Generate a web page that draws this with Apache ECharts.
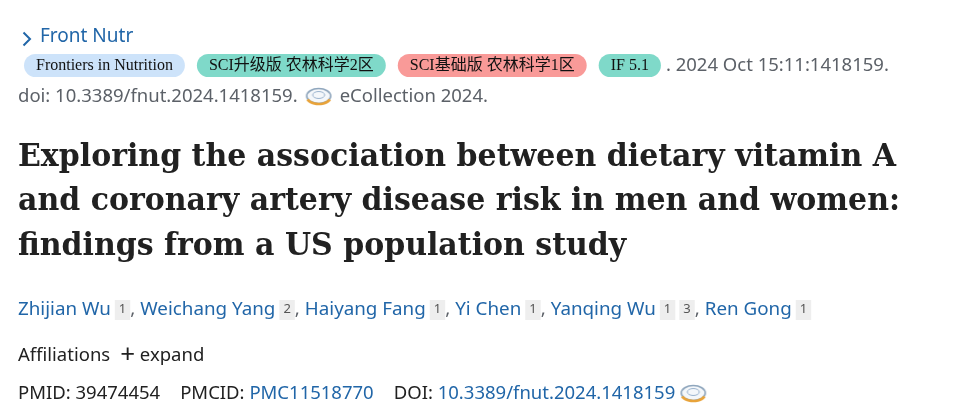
<!DOCTYPE html>
<html lang="en">
<head>
<meta charset="UTF-8">
<title>Front Nutr article header</title>
<script src="https://cdn.jsdelivr.net/npm/echarts@6/dist/echarts.min.js"></script>
<style>
  html, body { margin: 0; padding: 0; background: #fff; }
  #main { width: 968px; height: 414px; }
</style>
</head>
<body>
<div id="main"></div>
<script>
// page text, kept as small lists
var journal = 'Front Nutr';
var badgeTexts = ['Frontiers in Nutrition', 'SCI升级版 农林科学2区', 'SCI基础版 农林科学1区', 'IF 5.1'];
var badgeKinds = ['blue', 'teal', 'red', 'teal'];
var citation = '. 2024 Oct 15:11:1418159.';
var doiText = 'doi: 10.3389/fnut.2024.1418159.';
var ecollection = 'eCollection 2024.';
var titleLines = [
  'Exploring the association between dietary vitamin A',
  'and coronary artery disease risk in men and women:',
  'findings from a US population study'
];
var authors = ['Zhijian Wu', 'Weichang Yang', 'Haiyang Fang', 'Yi Chen', 'Yanqing Wu', 'Ren Gong'];
var authorAffs = [['1'], ['2'], ['1'], ['1'], ['1', '3'], ['1']];
var idLabels = ['PMID:', 'PMCID:', 'DOI:'];
var idValues = ['39474454', 'PMC11518770', '10.3389/fnut.2024.1418159'];
var idLinked = [false, true, true];

var SANS = '"Noto Sans", "Open Sans", sans-serif';
var FS = 18.5;
var BLUE = '#2166a8';
var GRAY = '#5c6168';
var DARK = '#212121';

// small eCollection icon drawn on a canvas, used inline in rich text
function makeIcon() {
  var c = document.createElement('canvas');
  c.width = 28; c.height = 20;
  var g = c.getContext('2d');
  g.beginPath();
  g.ellipse(14, 9, 12, 7.5, 0, 0, Math.PI * 2);
  g.fillStyle = '#f4f7fa'; g.fill();
  g.lineWidth = 1.6; g.strokeStyle = '#8fa6bd'; g.stroke();
  g.beginPath();
  g.ellipse(14, 8, 6, 3.5, 0, 0, Math.PI * 2);
  g.lineWidth = 1; g.strokeStyle = '#9bb4cf'; g.stroke();
  g.beginPath();
  g.ellipse(14, 10, 12, 7, 0, 0.12 * Math.PI, 0.88 * Math.PI);
  g.lineWidth = 2.6; g.strokeStyle = '#e8a33a'; g.stroke();
  return c;
}
var icon = makeIcon();

var badgeStyle = {
  blue: { backgroundColor: '#cde3fa' },
  teal: { backgroundColor: '#7fd9c9' },
  red: { backgroundColor: '#f99a98' }
};

// row 2: badges + citation
var badgeRich = { sp: { width: 12, fontSize: 14 }, sp2: { width: 5, fontSize: 14 } };
var badgeStr = '';
badgeTexts.forEach(function (t, i) {
  var k = 'b' + i;
  badgeRich[k] = Object.assign({
    fill: '#111',
    fontFamily: '"Liberation Serif", "Noto Sans CJK SC", serif',
    fontSize: 16,
    padding: [3, 12, 3, 12],
    borderRadius: 12,
    height: 17,
    lineHeight: 17
  }, badgeStyle[badgeKinds[i]]);
  badgeStr += '{' + k + '|' + t + '}' + (i < badgeTexts.length - 1 ? '{sp| }' : '{sp2| }');
});
badgeRich.cit = { fill: GRAY, fontFamily: SANS, fontSize: FS };
badgeStr += '{cit|' + citation + '}';

// row 3: doi line with icon
var doiRich = {
  t: { fill: GRAY, fontFamily: SANS, fontSize: FS },
  ic: { width: 28, height: 20, backgroundColor: { image: icon } },
  sp: { width: 7 }
};
var doiStr = '{t|' + doiText + '}{sp| }{ic|}{sp| }{t|' + ecollection + '}';

// authors
var authRich = {
  n: { fill: BLUE, fontFamily: SANS, fontSize: 18.8 },
  c: { fill: GRAY, fontFamily: SANS, fontSize: 18.8 },
  sp: { width: 4 },
  csp: { width: 5 },
  s: {
    fill: '#555', fontFamily: SANS, fontSize: 13, backgroundColor: '#eeeeee',
    padding: [2, 4, 3, 4], verticalAlign: 'top', height: 15, lineHeight: 15
  }
};
var authStr = authors.map(function (a, i) {
  var sup = authorAffs[i].map(function (n) { return '{sp| }{s|' + n + '}'; }).join('');
  return '{n|' + a + '}' + sup;
}).join('{c|,}{csp| }');

// affiliations
var affRich = {
  t: { fill: DARK, fontFamily: SANS, fontSize: FS },
  p: { fill: DARK, fontFamily: SANS, fontSize: 26 },
  sp: { width: 10 }
};
var affStr = '{t|Affiliations}{sp| }{p|+}{t| expand}';

// ids
var idRich = {
  l: { fill: DARK, fontFamily: SANS, fontSize: FS },
  v: { fill: DARK, fontFamily: SANS, fontSize: FS },
  lv: { fill: BLUE, fontFamily: SANS, fontSize: FS },
  ic: { width: 28, height: 20, backgroundColor: { image: icon } },
  gap: { width: 20 },
  sp: { width: 4 }
};
var idStr = idLabels.map(function (l, i) {
  return '{l|' + l + ' }{' + (idLinked[i] ? 'lv' : 'v') + '|' + idValues[i] + '}';
}).join('{gap| }') + '{sp| }{ic|}';

var elements = [];
// chevron + journal
elements.push({
  type: 'polyline', left: 21, top: 30,
  shape: { points: [[0, 0], [6.5, 6.5], [0, 13]] },
  style: { stroke: BLUE, lineWidth: 2, fill: null }
});
elements.push({
  type: 'text', left: 40, top: 27,
  style: { text: journal, fill: BLUE, font: '19px ' + SANS }
});
elements.push({ type: 'text', left: 24, top: 54, style: { text: badgeStr, rich: badgeRich } });
elements.push({ type: 'text', left: 18, top: 87, style: { text: doiStr, rich: doiRich } });
titleLines.forEach(function (line, i) {
  elements.push({
    type: 'text', left: 18, top: 141 + i * 44.5, scaleY: 1.08,
    style: { text: line, fill: DARK, font: 'bold 30px "DejaVu Serif", serif' }
  });
});
elements.push({ type: 'text', left: 18, top: 300, style: { text: authStr, rich: authRich } });
elements.push({ type: 'text', left: 18, top: 343, style: { text: affStr, rich: affRich } });
elements.push({ type: 'text', left: 18, top: 384, style: { text: idStr, rich: idRich } });

var chart = echarts.init(document.getElementById('main'));
chart.setOption({
  backgroundColor: '#fff',
  graphic: elements
});
</script>
</body>
</html>
